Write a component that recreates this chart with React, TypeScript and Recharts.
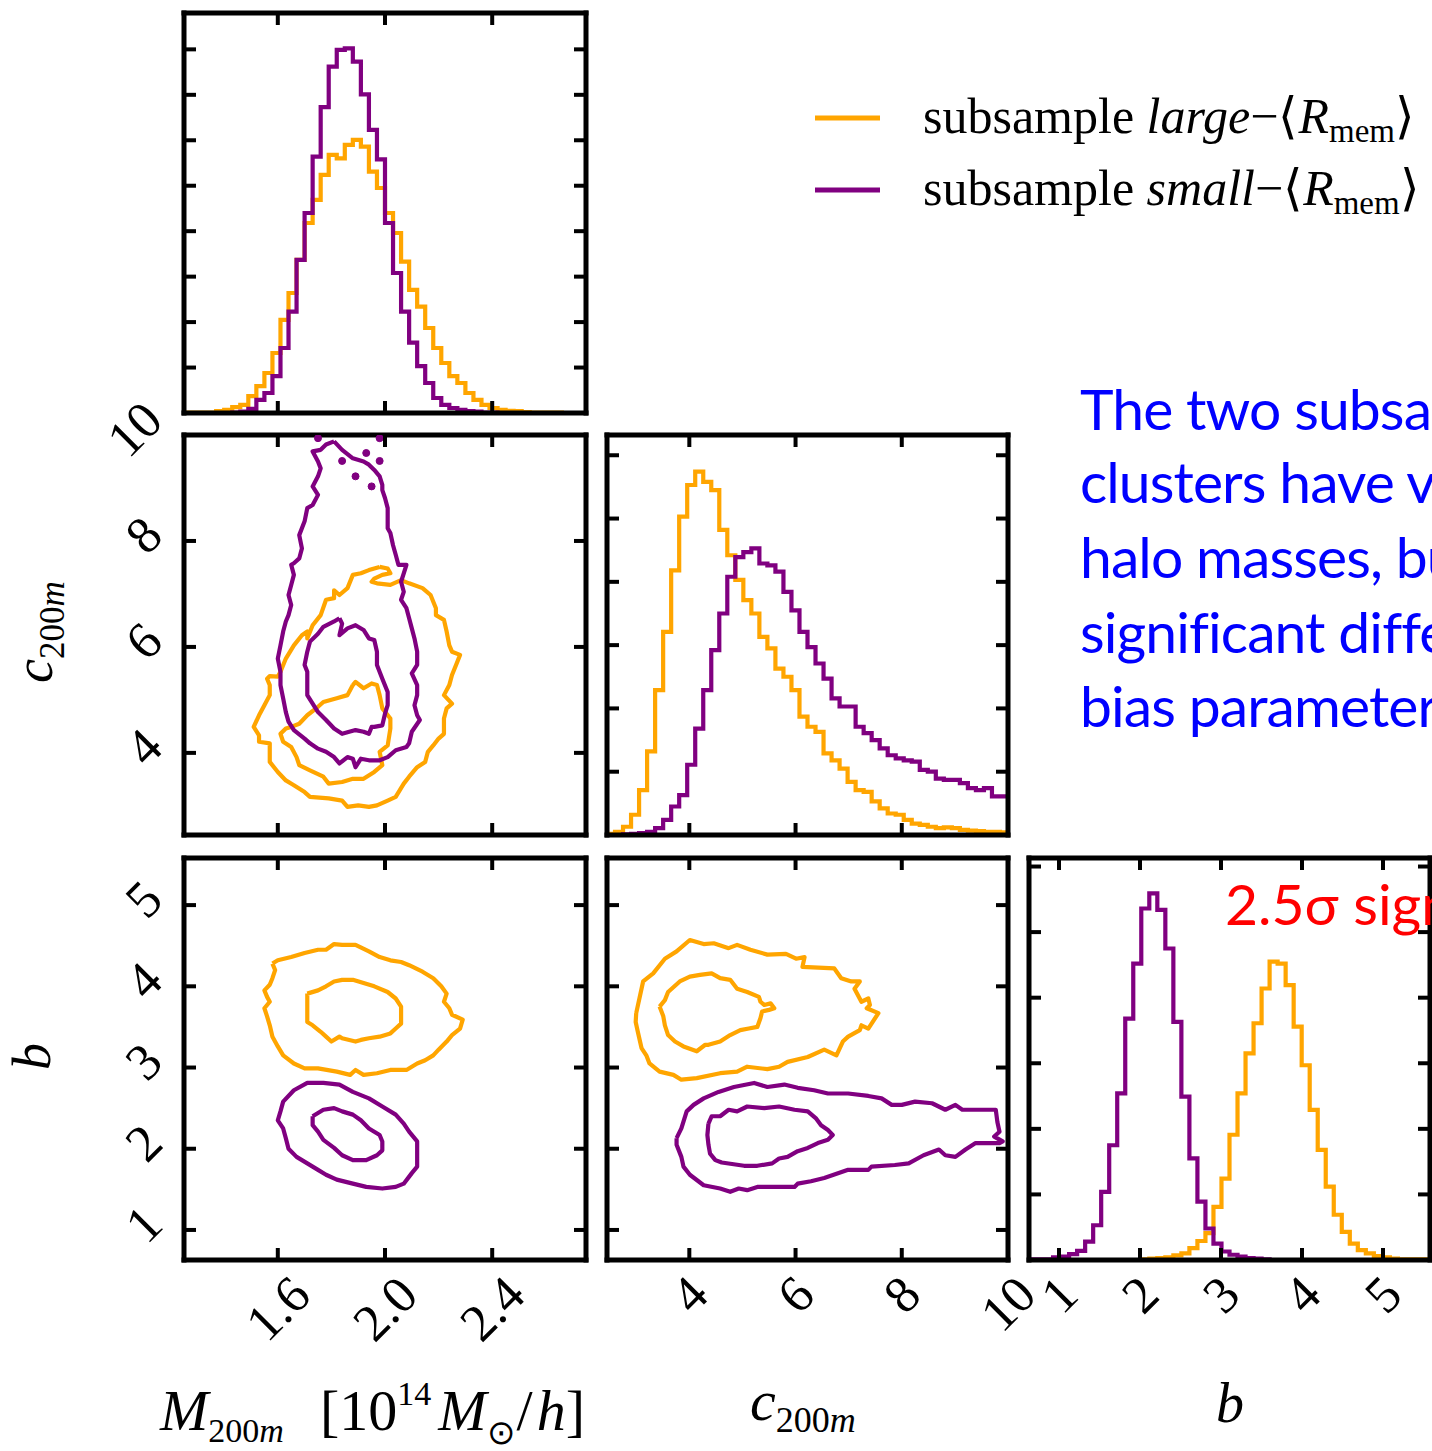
import React from 'react'
import { LineChart, Line, XAxis, YAxis } from 'recharts'

const ORANGE = '#ffa500'
const PURPLE = '#800080'
const SERIF = '"Liberation Serif", "Times New Roman", serif'

// parameter ranges and ticks
const M_DOMAIN: [number, number] = [1.25, 2.75]
const C_DOMAIN: [number, number] = [2.45, 10.0]
const B_DOMAIN: [number, number] = [0.63, 5.58]
const M_TICKS = [1.6, 2.0, 2.4]
const C_TICKS = [4, 6, 8, 10]
const B_TICKS = [1, 2, 3, 4, 5]

// 1D marginals (50 bins each over the ranges above)
const M_HIST_LARGE = [
  0.01, 0.01, 0.01, 0.01, 0.04, 0.07, 0.13, 0.18, 0.37, 0.59,
  0.88, 1.32, 2.05, 2.64, 3.37, 4.18, 4.69, 5.24, 5.68, 5.60,
  5.90, 6.01, 5.86, 5.31, 4.95, 4.40, 3.96, 3.33, 2.71, 2.34,
  1.87, 1.43, 1.10, 0.81, 0.66, 0.44, 0.29, 0.18, 0.11, 0.07,
  0.05, 0.04, 0.02, 0.01, 0.01, 0.01, 0.01, 0, 0, 0,
]
const M_HIST_SMALL = [
  0, 0, 0, 0, 0, 0, 0.01, 0.03, 0.09, 0.29,
  0.44, 0.81, 1.43, 2.23, 3.37, 4.40, 5.64, 6.73, 7.62, 7.99,
  8.02, 7.73, 7.01, 6.23, 5.58, 4.18, 3.08, 2.23, 1.55, 1.03,
  0.66, 0.33, 0.18, 0.11, 0.07, 0.04, 0.03, 0.01, 0.01, 0,
  0, 0, 0, 0, 0, 0, 0, 0, 0, 0,
]
const C_HIST_LARGE = [
  0.02, 0.05, 0.13, 0.32, 0.71, 1.32, 2.29, 3.21, 4.18, 5.03,
  5.53, 5.74, 5.58, 5.45, 4.82, 4.42, 4.03, 3.71, 3.50, 3.13,
  2.95, 2.63, 2.50, 2.29, 1.87, 1.71, 1.63, 1.29, 1.18, 1.05,
  0.84, 0.71, 0.68, 0.53, 0.42, 0.34, 0.32, 0.24, 0.18, 0.16,
  0.13, 0.11, 0.12, 0.11, 0.08, 0.07, 0.06, 0.05, 0.05, 0.04,
]
const C_HIST_SMALL = [
  0, 0, 0.01, 0.02, 0.03, 0.05, 0.11, 0.24, 0.45, 0.63,
  1.11, 1.68, 2.29, 2.92, 3.50, 4.08, 4.39, 4.47, 4.53, 4.29,
  4.26, 4.16, 3.84, 3.55, 3.21, 2.97, 2.71, 2.47, 2.16, 2.03,
  2.03, 1.71, 1.61, 1.50, 1.37, 1.26, 1.21, 1.18, 1.16, 1.03,
  1.00, 0.89, 0.87, 0.87, 0.82, 0.74, 0.71, 0.74, 0.61, 0.61,
]
const B_HIST_LARGE = [
  0, 0, 0, 0, 0, 0, 0, 0, 0, 0,
  0, 0, 0, 0, 0.01, 0.02, 0.03, 0.04, 0.07, 0.10,
  0.18, 0.29, 0.41, 0.81, 1.24, 1.91, 2.54, 3.15, 3.61, 4.14,
  4.55, 4.52, 4.19, 3.56, 2.97, 2.29, 1.68, 1.12, 0.69, 0.43,
  0.25, 0.15, 0.10, 0.06, 0.04, 0.02, 0.01, 0.01, 0.01, 0.01,
]
const B_HIST_SMALL = [
  0.01, 0.01, 0.01, 0.04, 0.05, 0.09, 0.14, 0.28, 0.53, 1.04,
  1.75, 2.54, 3.68, 4.52, 5.36, 5.59, 5.34, 4.75, 3.63, 2.49,
  1.55, 0.89, 0.48, 0.25, 0.13, 0.08, 0.05, 0.03, 0.02, 0.01,
  0, 0, 0, 0, 0, 0, 0, 0, 0, 0,
  0, 0, 0, 0, 0, 0, 0, 0, 0, 0,
]

// 2D contours, [x, y] in data units
const MC_LARGE_OUTER = [
  [1.98, 7.51], [2.01, 7.48], [2.02, 7.39], [1.99, 7.36], [1.96, 7.29], [1.95, 7.23], [1.97, 7.20], [2.02, 7.17],
  [2.06, 7.26], [2.09, 7.20], [2.14, 7.11], [2.17, 6.98], [2.19, 6.73], [2.19, 6.60], [2.22, 6.51], [2.23, 6.29],
  [2.24, 6.03], [2.25, 5.91], [2.28, 5.85], [2.27, 5.72], [2.25, 5.47], [2.24, 5.28], [2.22, 5.09], [2.25, 4.93],
  [2.23, 4.84], [2.22, 4.65], [2.22, 4.36], [2.20, 4.27], [2.18, 4.14], [2.16, 4.02], [2.15, 3.83], [2.12, 3.73],
  [2.09, 3.55], [2.07, 3.42], [2.04, 3.17], [2.01, 3.10], [1.97, 3.01], [1.94, 2.98], [1.90, 3.01], [1.86, 2.98],
  [1.84, 3.10], [1.79, 3.14], [1.72, 3.17], [1.70, 3.26], [1.66, 3.39], [1.63, 3.48], [1.60, 3.64], [1.57, 3.83],
  [1.57, 4.02], [1.57, 4.18], [1.53, 4.21], [1.53, 4.33], [1.51, 4.49], [1.53, 4.71], [1.55, 4.90], [1.57, 5.09],
  [1.57, 5.28], [1.56, 5.40], [1.57, 5.45], [1.60, 5.44], [1.61, 5.53], [1.63, 5.78], [1.66, 6.03], [1.69, 6.22],
  [1.71, 6.29], [1.71, 6.16], [1.73, 6.41], [1.76, 6.60], [1.78, 6.89], [1.81, 6.92], [1.81, 7.07], [1.83, 6.98],
  [1.86, 7.11], [1.88, 7.36], [1.91, 7.39], [1.94, 7.45],
]
const MC_LARGE_INNER = [
  [1.88, 5.28], [1.89, 5.34], [1.92, 5.22], [1.95, 5.31], [1.97, 5.28], [1.98, 5.09], [1.99, 4.84], [2.02, 4.65],
  [2.02, 4.46], [2.01, 4.14], [1.98, 4.02], [1.99, 3.77], [1.96, 3.64], [1.92, 3.51], [1.88, 3.51], [1.84, 3.45],
  [1.79, 3.42], [1.77, 3.55], [1.72, 3.67], [1.68, 3.77], [1.67, 3.92], [1.65, 4.11], [1.62, 4.21], [1.61, 4.36],
  [1.63, 4.46], [1.65, 4.49], [1.68, 4.55], [1.71, 4.71], [1.75, 4.87], [1.77, 4.96], [1.82, 5.03], [1.86, 5.09],
]
const MC_SMALL_OUTER = [
  [1.81, 9.88], [1.84, 9.72], [1.88, 9.56], [1.92, 9.50], [1.94, 9.44], [1.96, 9.34], [1.98, 9.22], [1.99, 9.06],
  [1.99, 8.96], [2.00, 8.81], [2.01, 8.62], [2.01, 8.43], [2.01, 8.24], [2.02, 8.15], [2.03, 7.92], [2.04, 7.74],
  [2.05, 7.55], [2.08, 7.55], [2.07, 7.39], [2.06, 7.23], [2.07, 7.04], [2.06, 6.89], [2.08, 6.73], [2.09, 6.54],
  [2.10, 6.35], [2.11, 6.16], [2.12, 5.91], [2.12, 5.66], [2.10, 5.50], [2.12, 5.28], [2.12, 5.09], [2.11, 4.90],
  [2.12, 4.71], [2.13, 4.62], [2.10, 4.40], [2.09, 4.18], [2.08, 4.11], [2.04, 4.05], [2.01, 3.92], [1.98, 3.86],
  [1.94, 3.86], [1.91, 3.89], [1.89, 3.73], [1.88, 3.89], [1.86, 3.92], [1.83, 3.80], [1.81, 3.92], [1.78, 4.02],
  [1.75, 4.08], [1.72, 4.18], [1.70, 4.27], [1.66, 4.43], [1.64, 4.59], [1.63, 4.77], [1.62, 5.03], [1.61, 5.28],
  [1.61, 5.53], [1.60, 5.78], [1.61, 6.03], [1.62, 6.29], [1.63, 6.48], [1.64, 6.60], [1.65, 6.79], [1.64, 6.98],
  [1.65, 7.17], [1.66, 7.36], [1.65, 7.55], [1.66, 7.58], [1.68, 7.67], [1.69, 7.86], [1.68, 8.11], [1.70, 8.37],
  [1.71, 8.62], [1.73, 8.68], [1.75, 8.87], [1.73, 9.03], [1.75, 9.22], [1.76, 9.37], [1.75, 9.50], [1.73, 9.69],
  [1.76, 9.72], [1.78, 9.82],
]
const MC_SMALL_INNER = [
  [1.83, 6.54], [1.84, 6.44], [1.83, 6.22], [1.86, 6.35], [1.89, 6.41], [1.92, 6.32], [1.94, 6.16], [1.96, 6.13],
  [1.97, 5.91], [1.97, 5.66], [1.99, 5.40], [2.01, 5.15], [2.01, 4.90], [2.00, 4.74], [1.99, 4.52], [1.96, 4.49],
  [1.95, 4.49], [1.94, 4.36], [1.92, 4.40], [1.89, 4.43], [1.84, 4.36], [1.81, 4.46], [1.78, 4.62], [1.75, 4.77],
  [1.73, 4.93], [1.71, 5.09], [1.71, 5.34], [1.71, 5.53], [1.70, 5.66], [1.71, 5.91], [1.72, 6.10], [1.75, 6.25],
  [1.77, 6.38], [1.81, 6.48],
]
const MC_SMALL_SPECKS = [
  [1.75, 9.94], [1.84, 9.51], [1.93, 9.66], [1.98, 9.51], [1.89, 9.22], [1.95, 9.03], [1.98, 9.94],
]

const MB_LARGE_OUTER = [
  [1.58, 4.28], [1.60, 4.32], [1.65, 4.36], [1.70, 4.41], [1.75, 4.45], [1.78, 4.45], [1.81, 4.52], [1.84, 4.51],
  [1.89, 4.51], [1.94, 4.43], [1.98, 4.36], [2.02, 4.32], [2.06, 4.30], [2.09, 4.26], [2.14, 4.18], [2.18, 4.10],
  [2.21, 4.00], [2.23, 3.91], [2.22, 3.81], [2.24, 3.73], [2.25, 3.65], [2.29, 3.59], [2.28, 3.48], [2.25, 3.40],
  [2.23, 3.32], [2.20, 3.22], [2.18, 3.15], [2.15, 3.09], [2.12, 3.05], [2.08, 2.97], [2.02, 2.97], [1.97, 2.93],
  [1.92, 2.91], [1.89, 2.97], [1.87, 2.91], [1.82, 2.95], [1.75, 2.99], [1.70, 2.99], [1.66, 3.05], [1.62, 3.15],
  [1.60, 3.26], [1.58, 3.38], [1.57, 3.52], [1.56, 3.63], [1.55, 3.73], [1.57, 3.81], [1.56, 3.87], [1.55, 3.95],
  [1.57, 4.02], [1.58, 4.10], [1.59, 4.20],
]
const MB_LARGE_INNER = [
  [1.71, 3.91], [1.75, 3.95], [1.78, 4.00], [1.81, 4.06], [1.84, 4.08], [1.88, 4.08], [1.92, 4.04], [1.96, 4.00],
  [2.01, 3.93], [2.04, 3.85], [2.06, 3.75], [2.06, 3.61], [2.06, 3.54], [2.04, 3.48], [2.02, 3.42], [1.98, 3.38],
  [1.94, 3.36], [1.91, 3.34], [1.89, 3.32], [1.84, 3.36], [1.83, 3.38], [1.80, 3.32], [1.78, 3.38], [1.76, 3.44],
  [1.73, 3.52], [1.71, 3.56], [1.71, 3.65], [1.71, 3.73], [1.71, 3.81],
]
const MB_SMALL_OUTER = [
  [1.61, 2.46], [1.62, 2.58], [1.66, 2.72], [1.71, 2.81], [1.77, 2.81], [1.83, 2.79], [1.88, 2.70], [1.94, 2.62],
  [1.99, 2.52], [2.04, 2.42], [2.07, 2.31], [2.09, 2.21], [2.12, 2.09], [2.12, 1.96], [2.12, 1.86], [2.12, 1.78],
  [2.10, 1.70], [2.07, 1.57], [2.04, 1.53], [1.99, 1.51], [1.93, 1.53], [1.88, 1.57], [1.82, 1.62], [1.78, 1.68],
  [1.75, 1.74], [1.71, 1.82], [1.67, 1.90], [1.64, 2.00], [1.63, 2.13], [1.62, 2.25], [1.60, 2.35],
]
const MB_SMALL_INNER = [
  [1.73, 2.40], [1.77, 2.48], [1.81, 2.50], [1.84, 2.46], [1.88, 2.42], [1.91, 2.35], [1.94, 2.25], [1.98, 2.17],
  [1.99, 2.09], [1.99, 1.98], [1.97, 1.92], [1.93, 1.86], [1.88, 1.86], [1.84, 1.92], [1.81, 2.01], [1.77, 2.11],
  [1.75, 2.21], [1.73, 2.29],
]

const CB_LARGE_OUTER = [
  [3.00, 3.67], [3.13, 4.06], [3.32, 4.16], [3.54, 4.34], [3.76, 4.43], [4.01, 4.57], [4.27, 4.52], [4.46, 4.53],
  [4.74, 4.47], [4.90, 4.51], [5.15, 4.45], [5.47, 4.39], [5.82, 4.40], [6.01, 4.34], [6.17, 4.36], [6.13, 4.24],
  [6.73, 4.22], [6.86, 4.10], [7.05, 4.06], [7.21, 4.06], [7.11, 3.97], [7.24, 3.81], [7.37, 3.85], [7.40, 3.77],
  [7.34, 3.73], [7.56, 3.67], [7.37, 3.48], [7.24, 3.52], [7.21, 3.46], [6.99, 3.38], [6.89, 3.32], [6.77, 3.15],
  [6.54, 3.22], [6.23, 3.13], [5.85, 3.07], [5.69, 3.01], [5.47, 2.98], [5.09, 3.01], [4.90, 2.95], [4.58, 2.93],
  [4.14, 2.87], [3.85, 2.85], [3.70, 2.91], [3.44, 2.95], [3.25, 3.05], [3.19, 3.15], [3.10, 3.24], [3.03, 3.44],
  [2.99, 3.56],
]
const CB_LARGE_INNER = [
  [3.44, 3.75], [3.54, 3.83], [3.60, 3.93], [3.82, 4.06], [4.01, 4.12], [4.20, 4.14], [4.42, 4.16], [4.58, 4.10],
  [4.77, 4.08], [4.90, 3.97], [5.09, 3.93], [5.31, 3.87], [5.34, 3.81], [5.41, 3.77], [5.53, 3.79], [5.60, 3.73],
  [5.50, 3.71], [5.37, 3.69], [5.34, 3.61], [5.28, 3.50], [5.12, 3.48], [4.96, 3.46], [4.77, 3.40], [4.58, 3.32],
  [4.36, 3.28], [4.30, 3.28], [4.14, 3.20], [3.89, 3.26], [3.73, 3.32], [3.60, 3.40], [3.54, 3.52], [3.51, 3.63],
]
const CB_SMALL_OUTER = [
  [3.76, 2.13], [3.85, 2.25], [3.95, 2.46], [4.08, 2.54], [4.27, 2.62], [4.55, 2.70], [4.84, 2.76], [5.22, 2.81],
  [5.47, 2.76], [5.79, 2.79], [6.04, 2.75], [6.35, 2.72], [6.61, 2.68], [6.99, 2.68], [7.37, 2.65], [7.62, 2.62],
  [7.81, 2.54], [8.00, 2.54], [8.25, 2.58], [8.57, 2.56], [8.82, 2.48], [9.01, 2.54], [9.14, 2.48], [9.27, 2.48],
  [9.77, 2.48], [9.80, 2.33], [9.84, 2.21], [9.74, 2.15], [9.90, 2.09], [9.84, 2.07], [9.39, 2.07], [9.20, 1.99],
  [9.01, 1.90], [8.82, 1.92], [8.70, 1.99], [8.41, 1.92], [8.13, 1.82], [7.87, 1.80], [7.43, 1.78], [7.37, 1.74],
  [6.99, 1.74], [6.54, 1.64], [6.29, 1.60], [6.04, 1.57], [5.98, 1.53], [5.60, 1.53], [5.28, 1.53], [5.09, 1.49],
  [4.93, 1.51], [4.77, 1.47], [4.58, 1.51], [4.27, 1.55], [4.01, 1.68], [3.89, 1.78], [3.85, 1.90], [3.76, 2.05],
]
const CB_SMALL_INNER = [
  [4.36, 2.31], [4.42, 2.40], [4.58, 2.40], [4.74, 2.48], [4.90, 2.46], [5.09, 2.52], [5.41, 2.50], [5.69, 2.52],
  [5.98, 2.48], [6.23, 2.46], [6.39, 2.37], [6.48, 2.29], [6.61, 2.23], [6.70, 2.17], [6.61, 2.11], [6.42, 2.07],
  [6.23, 2.01], [6.04, 1.97], [5.85, 1.90], [5.69, 1.88], [5.56, 1.82], [5.28, 1.79], [5.03, 1.79], [4.61, 1.83],
  [4.49, 1.86], [4.39, 1.94], [4.36, 2.05], [4.34, 2.17],
]

// ---------------------------------------------------------------------------

const toSteps = (vals: number[], [lo, hi]: [number, number]) => {
  const w = (hi - lo) / vals.length
  const pts = vals.map((v, i) => ({ x: lo + i * w, y: v }))
  pts.push({ x: hi, y: vals[vals.length - 1] })
  return pts
}
const toLoop = (pts: number[][]) => [...pts, pts[0]].map(([x, y]) => ({ x, y }))
const toPts = (pts: number[][]) => pts.map(([x, y]) => ({ x, y }))

const LW = 4.2
const histLine = (key: string, vals: number[], dom: [number, number], color: string) => (
  <Line key={key} xAxisId="b" yAxisId="l" data={toSteps(vals, dom)} dataKey="y" type="stepAfter"
    stroke={color} strokeWidth={LW} dot={false} activeDot={false} isAnimationActive={false} />
)
const loopLine = (key: string, pts: number[][], color: string) => (
  <Line key={key} xAxisId="b" yAxisId="l" data={toLoop(pts)} dataKey="y" type="linear"
    stroke={color} strokeWidth={LW} strokeLinejoin="round" dot={false} activeDot={false} isAnimationActive={false} />
)

// ticks pointing inward, labels rotated 45deg like the corner plot
const TICK_FS = 52
const TICK_LEN = 12
const labelHalf = (s: string) => {
  let L = 0
  for (const ch of s) L += ch === '.' ? 0.27 : 0.5
  return (L * TICK_FS + 0.66 * TICK_FS) / (2 * Math.SQRT2)
}
type Side = 'bottom' | 'top' | 'left' | 'right'
const makeTick = (side: Side, fmt?: (v: number) => string) => (props: any) => {
  const { x, y, payload } = props
  let x2 = x, y2 = y
  if (side === 'bottom') y2 = y - TICK_LEN
  if (side === 'top') y2 = y + TICK_LEN
  if (side === 'left') x2 = x + TICK_LEN
  if (side === 'right') x2 = x - TICK_LEN
  let label = null
  if (fmt) {
    const s = fmt(payload.value)
    const half = labelHalf(s)
    const cx = side === 'left' ? x - 19 - half : x
    const cy = side === 'left' ? y - 6 : y + 13 + half
    label = (
      <text x={cx} y={cy} textAnchor="middle" dominantBaseline="central" fontSize={TICK_FS}
        fontFamily={SERIF} fill="#000" transform={`rotate(-45 ${cx} ${cy})`}>{s}</text>
    )
  }
  return <g><line x1={x} y1={y} x2={x2} y2={y2} stroke="#000" strokeWidth={4} />{label}</g>
}

const FRAME = { stroke: '#000', strokeWidth: 5, strokeLinecap: 'square' as const }
const WL = 110, WR = 60, HT = 60, HB = 110

function Panel({ left, top, w, h, xDomain, yDomain, xTicks, yTicks, xFmt, yFmt, children }: {
  left: number; top: number; w: number; h: number
  xDomain: [number, number]; yDomain: [number, number]
  xTicks: number[]; yTicks: number[]
  xFmt?: (v: number) => string; yFmt?: (v: number) => string
  children: React.ReactNode
}) {
  return (
    <div style={{ position: 'absolute', left: left - WL, top: top - HT }}>
      <LineChart width={WL + w + WR} height={HT + h + HB} margin={{ top: 0, right: 0, bottom: 0, left: 0 }}>
        <XAxis xAxisId="b" type="number" dataKey="x" domain={xDomain} allowDataOverflow ticks={xTicks}
          interval={0} orientation="bottom" height={HB} tickSize={0} tickMargin={0} tickLine={false}
          axisLine={FRAME} tick={makeTick('bottom', xFmt)} />
        <XAxis xAxisId="t" type="number" dataKey="x" domain={xDomain} allowDataOverflow ticks={xTicks}
          interval={0} orientation="top" height={HT} tickSize={0} tickMargin={0} tickLine={false}
          axisLine={FRAME} tick={makeTick('top')} />
        <YAxis yAxisId="l" type="number" domain={yDomain} allowDataOverflow ticks={yTicks}
          interval={0} orientation="left" width={WL} tickSize={0} tickMargin={0} tickLine={false}
          axisLine={FRAME} tick={makeTick('left', yFmt)} />
        <YAxis yAxisId="r" type="number" domain={yDomain} allowDataOverflow ticks={yTicks}
          interval={0} orientation="right" width={WR} tickSize={0} tickMargin={0} tickLine={false}
          axisLine={FRAME} tick={makeTick('right')} />
        {children}
      </LineChart>
    </div>
  )
}

const fmt1 = (v: number) => v.toFixed(1)
const fmt0 = (v: number) => String(v)

export default function App() {
  return (
    <div style={{ position: 'fixed', left: 0, top: 0, width: 1432, height: 1451, overflow: 'hidden', background: '#fff' }}>
      {/* row 0 */}
      <Panel left={184} top={13} w={402} h={400} xDomain={M_DOMAIN} yDomain={[0, 8.8]}
        xTicks={M_TICKS} yTicks={[1, 2, 3, 4, 5, 6, 7, 8]}>
        {histLine('ml', M_HIST_LARGE, M_DOMAIN, ORANGE)}
        {histLine('ms', M_HIST_SMALL, M_DOMAIN, PURPLE)}
      </Panel>

      {/* row 1 */}
      <Panel left={184} top={435} w={402} h={400} xDomain={M_DOMAIN} yDomain={C_DOMAIN}
        xTicks={M_TICKS} yTicks={C_TICKS} yFmt={fmt0}>
        {loopLine('mclo', MC_LARGE_OUTER, ORANGE)}
        {loopLine('mcli', MC_LARGE_INNER, ORANGE)}
        {loopLine('mcso', MC_SMALL_OUTER, PURPLE)}
        {loopLine('mcsi', MC_SMALL_INNER, PURPLE)}
        <Line key="specks" xAxisId="b" yAxisId="l" data={toPts(MC_SMALL_SPECKS)} dataKey="y" stroke="none"
          dot={{ r: 3.5, fill: PURPLE, stroke: PURPLE, strokeWidth: 1 }} activeDot={false} isAnimationActive={false} />
      </Panel>
      <Panel left={607} top={435} w={401} h={400} xDomain={C_DOMAIN} yDomain={[0, 6.32]}
        xTicks={C_TICKS} yTicks={[1, 2, 3, 4, 5, 6]}>
        {histLine('cl', C_HIST_LARGE, C_DOMAIN, ORANGE)}
        {histLine('cs', C_HIST_SMALL, C_DOMAIN, PURPLE)}
      </Panel>

      {/* row 2 */}
      <Panel left={184} top={858} w={402} h={402} xDomain={M_DOMAIN} yDomain={B_DOMAIN}
        xTicks={M_TICKS} yTicks={B_TICKS} xFmt={fmt1} yFmt={fmt0}>
        {loopLine('mblo', MB_LARGE_OUTER, ORANGE)}
        {loopLine('mbli', MB_LARGE_INNER, ORANGE)}
        {loopLine('mbso', MB_SMALL_OUTER, PURPLE)}
        {loopLine('mbsi', MB_SMALL_INNER, PURPLE)}
      </Panel>
      <Panel left={607} top={858} w={401} h={402} xDomain={C_DOMAIN} yDomain={B_DOMAIN}
        xTicks={C_TICKS} yTicks={B_TICKS} xFmt={fmt0}>
        {loopLine('cblo', CB_LARGE_OUTER, ORANGE)}
        {loopLine('cbli', CB_LARGE_INNER, ORANGE)}
        {loopLine('cbso', CB_SMALL_OUTER, PURPLE)}
        {loopLine('cbsi', CB_SMALL_INNER, PURPLE)}
      </Panel>
      <Panel left={1029} top={858} w={401} h={402} xDomain={B_DOMAIN} yDomain={[0, 6.13]}
        xTicks={B_TICKS} yTicks={[1, 2, 3, 4, 5, 6]} xFmt={fmt0}>
        {histLine('bl', B_HIST_LARGE, B_DOMAIN, ORANGE)}
        {histLine('bs', B_HIST_SMALL, B_DOMAIN, PURPLE)}
      </Panel>

      {/* labels, legend and notes */}
      <svg width={1432} height={1451} style={{ position: 'absolute', left: 0, top: 0, pointerEvents: 'none' }}>
        <g fontFamily={SERIF} fill="#000">
          <line x1={815} x2={880} y1={118} y2={118} stroke={ORANGE} strokeWidth={5} />
          <line x1={815} x2={880} y1={190} y2={190} stroke={PURPLE} strokeWidth={5} />
          <text x={923} y={133} fontSize={50}>
            subsample <tspan fontStyle="italic">large</tspan>−⟨<tspan fontStyle="italic">R</tspan>
            <tspan fontSize={33} dy={9}>mem</tspan><tspan dy={-9}>⟩</tspan>
          </text>
          <text x={923} y={205} fontSize={50}>
            subsample <tspan fontStyle="italic">small</tspan>−⟨<tspan fontStyle="italic">R</tspan>
            <tspan fontSize={33} dy={9}>mem</tspan><tspan dy={-9}>⟩</tspan>
          </text>

          <text x={160} y={1430} fontSize={58}>
            <tspan fontStyle="italic">M</tspan>
            <tspan fontSize={34} dy={12}>200</tspan><tspan fontSize={34} fontStyle="italic">m</tspan>
            <tspan dy={-12} dx={36}>[10</tspan>
            <tspan fontSize={34} dy={-25}>14</tspan>
            <tspan dy={25} dx={7} fontStyle="italic">M</tspan>
            <tspan fontSize={34} dy={14}>⊙</tspan>
            <tspan dy={-14} dx={2}>/</tspan><tspan fontStyle="italic" dx={4}>h</tspan>]
          </text>
          <text x={750} y={1420} fontSize={58}>
            <tspan fontStyle="italic">c</tspan>
            <tspan fontSize={36} dy={12}>200</tspan><tspan fontSize={36} fontStyle="italic">m</tspan>
          </text>
          <text x={1216} y={1422} fontSize={56} fontStyle="italic">b</text>

          <text x={52} y={683} fontSize={54} transform="rotate(-90 52 683)">
            <tspan fontStyle="italic">c</tspan>
            <tspan fontSize={35} dy={12}>200</tspan><tspan fontSize={35} fontStyle="italic">m</tspan>
          </text>
          <text x={50} y={1070} fontSize={54} fontStyle="italic" transform="rotate(-90 50 1070)">b</text>
        </g>
        <g fontFamily="Lato, 'Open Sans', sans-serif" fontSize={57} fill="#0000ff" letterSpacing={-0.9}>
          <text x={1080} y={430}>The two subsamples</text>
          <text x={1080} y={503}>clusters have very</text>
          <text x={1080} y={578}>halo masses, but</text>
          <text x={1080} y={653}>significant difference</text>
          <text x={1080} y={727}>bias parameter</text>
        </g>
        <text x={1225} y={925} fontFamily="Lato, 'Open Sans', sans-serif" fontSize={57} fill="#ff0000">2.5σ significance</text>
      </svg>
    </div>
  )
}
